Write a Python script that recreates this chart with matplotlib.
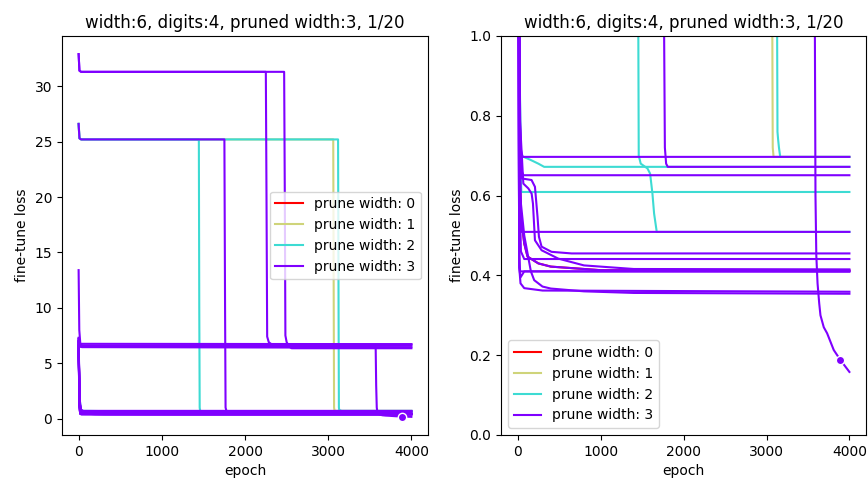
import matplotlib
matplotlib.use("Agg")
import matplotlib.pyplot as plt

# ---------------- data ----------------
title_text = "width:6, digits:4, pruned width:3, 1/20"
legend_labels = ["prune width: 0", "prune width: 1", "prune width: 2", "prune width: 3"]
width_colors = ["#ff0000", "#cfd47a", "#3ddbd3", "#7f00ff"]

# each run: prune width, epoch breakpoints, loss values
run_r1_epoch = [0, 12, 25, 40, 80, 120, 250, 400, 1000, 3999]
run_r1_loss = [6.6, 1.2, 0.7, 0.55, 0.48, 0.447, 0.43, 0.422, 0.413, 0.412]

run_y1_epoch = [0, 10, 30, 3060, 3066, 3070, 3075, 3085, 3999]
run_y1_loss = [26.6, 25.3, 25.2, 25.2, 10.0, 1.0, 0.72, 0.697, 0.697]

run_c1_epoch = [0, 10, 30, 1445, 1450, 1455, 1460, 1484, 1565, 1597, 1625, 1645, 1677, 3999]
run_c1_loss = [26.6, 25.3, 25.2, 25.2, 10.0, 1.0, 0.70, 0.680, 0.668, 0.655, 0.605, 0.555, 0.509, 0.509]
run_c2_epoch = [0, 10, 30, 3118, 3124, 3128, 3132, 3140, 3150, 3165, 3999]
run_c2_loss = [26.6, 25.3, 25.2, 25.2, 10.0, 1.0, 0.76, 0.74, 0.72, 0.697, 0.697]
run_c3_epoch = [0, 10, 25, 40, 150, 250, 320, 3999]
run_c3_loss = [6.9, 2.0, 0.9, 0.70, 0.69, 0.68, 0.672, 0.672]
run_c4_epoch = [0, 12, 25, 45, 3999]
run_c4_loss = [6.5, 1.5, 0.75, 0.609, 0.609]

run_p01_epoch = [0, 10, 30, 2250, 2258, 2266, 2285, 2310, 2340, 3999]
run_p01_loss = [32.9, 31.4, 31.3, 31.3, 20.0, 7.4, 6.9, 6.75, 6.7, 6.7]
run_p02_epoch = [0, 10, 30, 2470, 2478, 2485, 2500, 2530, 2560, 3999]
run_p02_loss = [32.9, 31.4, 31.3, 31.3, 20.0, 7.5, 6.9, 6.5, 6.35, 6.35]
run_p03_epoch = [0, 10, 30, 1752, 1760, 1766, 1775, 1790, 1810, 3999]
run_p03_loss = [26.6, 25.3, 25.2, 25.2, 10.0, 1.0, 0.72, 0.68, 0.672, 0.672]
run_p04_epoch = [0, 8, 20, 40, 3999]
run_p04_loss = [13.4, 8.0, 6.8, 6.6, 6.6]
run_p05_epoch = [0, 20, 40, 3570, 3576, 3583, 3590, 3600, 3615, 3635, 3650, 3690,
                 3730, 3810, 3890, 3999]
run_p05_loss = [7.2, 6.5, 6.45, 6.4, 3.0, 1.0, 0.6, 0.45, 0.38, 0.33, 0.30, 0.27,
                0.255, 0.213, 0.188, 0.158]
run_p06_epoch = [0, 15, 3999]
run_p06_loss = [7.0, 6.75, 6.72]
run_p07_epoch = [0, 20, 3999]
run_p07_loss = [7.3, 6.5, 6.45]
run_p08_epoch = [0, 10, 25, 35, 60, 3999]
run_p08_loss = [7.1, 2.0, 0.9, 0.72, 0.697, 0.697]
run_p09_epoch = [0, 12, 25, 40, 70, 3999]
run_p09_loss = [6.8, 1.5, 0.8, 0.665, 0.651, 0.651]
run_p10_epoch = [0, 12, 25, 40, 3999]
run_p10_loss = [7.0, 1.5, 0.75, 0.509, 0.509]
run_p11_epoch = [0, 12, 25, 48, 168, 209, 240, 257, 289, 409, 650, 3999]
run_p11_loss = [6.2, 1.5, 0.8, 0.643, 0.639, 0.622, 0.547, 0.497, 0.472, 0.459, 0.455, 0.455]
run_p12_epoch = [0, 12, 25, 40, 80, 3999]
run_p12_loss = [5.8, 1.2, 0.6, 0.46, 0.441, 0.441]
run_p13_epoch = [0, 12, 25, 69, 129, 169, 185, 209, 289, 490, 800, 1400, 3999]
run_p13_loss = [6.0, 1.5, 0.8, 0.630, 0.618, 0.605, 0.58, 0.488, 0.463, 0.442, 0.425, 0.416, 0.415]
run_p14_epoch = [0, 12, 25, 40, 80, 120, 250, 400, 1000, 3999]
run_p14_loss = [6.6, 1.2, 0.7, 0.55, 0.48, 0.447, 0.43, 0.422, 0.413, 0.412]
run_p15_epoch = [0, 10, 20, 30, 3999]
run_p15_loss = [6.4, 1.0, 0.45, 0.41, 0.409]
run_p16_epoch = [0, 10, 20, 35, 80, 3999]
run_p16_loss = [7.2, 1.0, 0.42, 0.395, 0.41, 0.411]
run_p17_epoch = [0, 10, 20, 35, 80, 300, 3999]
run_p17_loss = [6.9, 1.0, 0.42, 0.38, 0.368, 0.362, 0.359]
run_p18_epoch = [0, 15, 30, 80, 120, 160, 200, 300, 400, 800, 1400, 3999]
run_p18_loss = [7.0, 1.0, 0.6, 0.5, 0.455, 0.41, 0.388, 0.372, 0.367, 0.36, 0.356, 0.354]

runs = [
    (0, run_r1_epoch, run_r1_loss),
    (1, run_y1_epoch, run_y1_loss),
    (2, run_c1_epoch, run_c1_loss),
    (2, run_c2_epoch, run_c2_loss),
    (2, run_c3_epoch, run_c3_loss),
    (2, run_c4_epoch, run_c4_loss),
    (3, run_p01_epoch, run_p01_loss),
    (3, run_p02_epoch, run_p02_loss),
    (3, run_p03_epoch, run_p03_loss),
    (3, run_p04_epoch, run_p04_loss),
    (3, run_p05_epoch, run_p05_loss),
    (3, run_p06_epoch, run_p06_loss),
    (3, run_p07_epoch, run_p07_loss),
    (3, run_p08_epoch, run_p08_loss),
    (3, run_p09_epoch, run_p09_loss),
    (3, run_p10_epoch, run_p10_loss),
    (3, run_p11_epoch, run_p11_loss),
    (3, run_p12_epoch, run_p12_loss),
    (3, run_p13_epoch, run_p13_loss),
    (3, run_p14_epoch, run_p14_loss),
    (3, run_p15_epoch, run_p15_loss),
    (3, run_p16_epoch, run_p16_loss),
    (3, run_p17_epoch, run_p17_loss),
    (3, run_p18_epoch, run_p18_loss),
]

marker_epoch = [3890]
marker_loss = [0.187]

# ---------------- drawing ----------------
fig = plt.figure(figsize=(8.68, 4.79), dpi=100)
ax1 = fig.add_axes([0.0714, 0.0919, 0.4217, 0.833])
ax2 = fig.add_axes([0.5772, 0.0919, 0.4205, 0.833])


def draw(ax):
    labelled = set()
    for w, ep, ls in runs:
        lab = legend_labels[w] if w not in labelled else None
        labelled.add(w)
        ax.plot(ep, ls, color=width_colors[w], lw=1.5, label=lab)
    ax.plot(marker_epoch, marker_loss, "o", color=width_colors[3],
            markeredgecolor="white", markersize=6, zorder=5)
    ax.set_title(title_text, fontsize=12)
    ax.set_xlabel("epoch", fontsize=10)
    ax.set_ylabel("fine-tune loss", fontsize=10)
    ax.set_xticks([0, 1000, 2000, 3000, 4000])


draw(ax1)
ax1.legend(loc="center right", fontsize=10)

draw(ax2)
ax2.set_ylim(0, 1.0)
ax2.legend(loc="lower left", fontsize=10)

fig.savefig("out.png", dpi=100)
